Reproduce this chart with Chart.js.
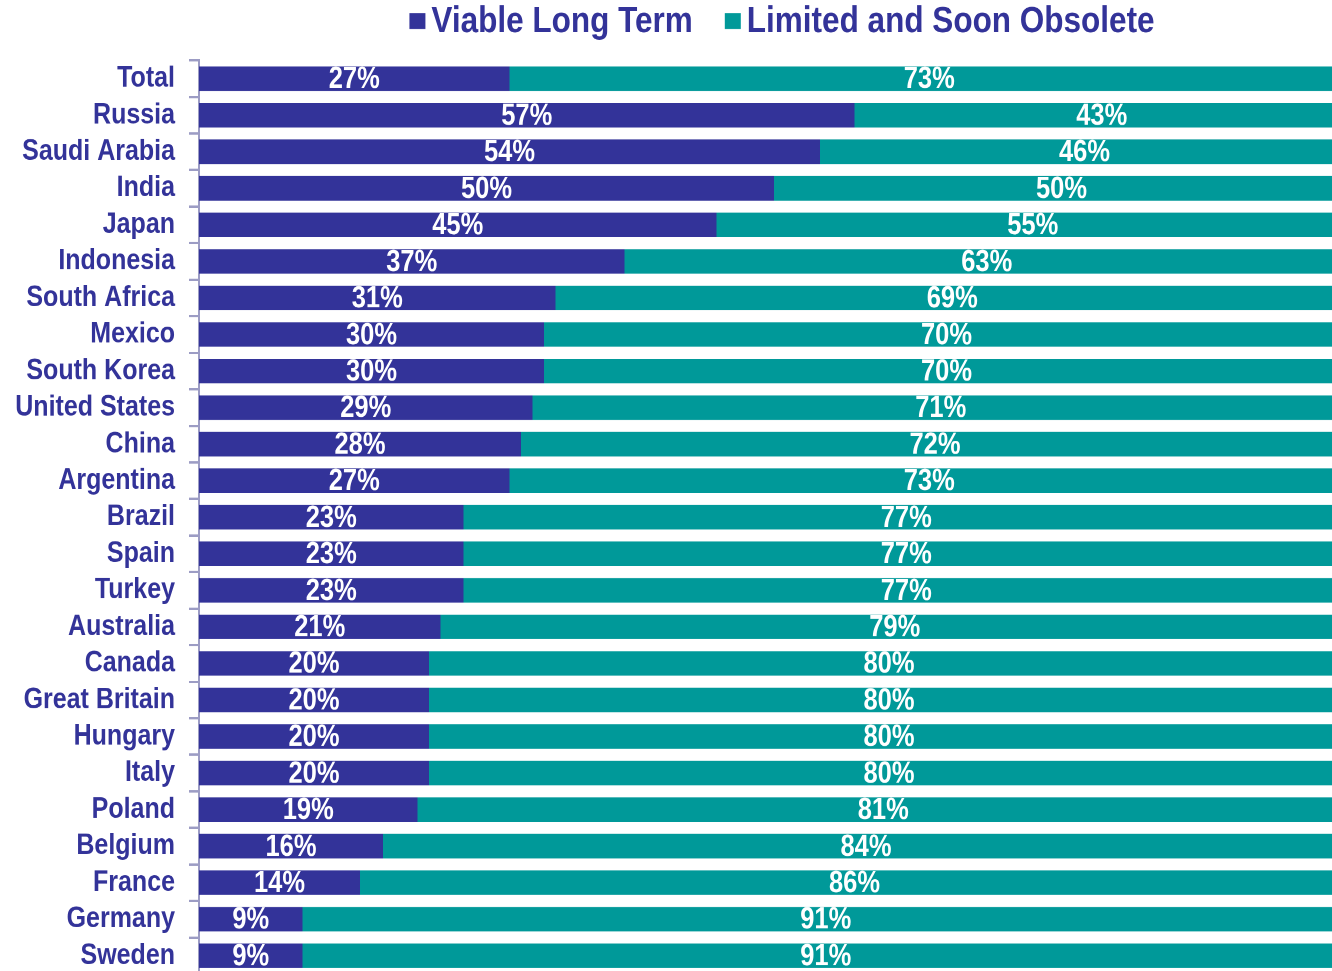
<!DOCTYPE html>
<html>
<head>
<meta charset="utf-8">
<script src="https://cdn.jsdelivr.net/npm/chart.js@4.4.1/dist/chart.umd.min.js"></script>
<style>
  html { margin: 0; padding: 0; background: #ffffff; overflow: hidden; }
  body { margin: 0; padding: 0; background: #ffffff; height: 971px; }
  #wrap { width: 1332px; height: 832px; position: relative; transform: scaleY(1.1707); transform-origin: 0 0; }
</style>
</head>
<body>
<div id="wrap"><canvas id="c"></canvas></div>
<script>
const categories = ["Total","Russia","Saudi Arabia","India","Japan","Indonesia","South Africa","Mexico","South Korea","United States","China","Argentina","Brazil","Spain","Turkey","Australia","Canada","Great Britain","Hungary","Italy","Poland","Belgium","France","Germany","Sweden"];
const viableLongTerm = [27,57,54,50,45,37,31,30,30,29,28,27,23,23,23,21,20,20,20,20,19,16,14,9,9];
const limitedSoonObsolete = [73,43,46,50,55,63,69,70,70,71,72,73,77,77,77,79,80,80,80,80,81,84,86,91,91];
const seriesNames = ["Viable Long Term", "Limited and Soon Obsolete"];
const seriesColors = ["#333399", "#009999"];

const FONT = "'Liberation Sans', Arial, Helvetica, sans-serif";

const labelPlugin = {
  id: 'segLabels',
  afterDatasetsDraw(chart) {
    const ctx = chart.ctx;
    const xs = chart.scales.x;
    ctx.save();
    ctx.fillStyle = '#ffffff';
    ctx.font = "bold 25.5px " + FONT;
    ctx.textAlign = 'center';
    ctx.textBaseline = 'middle';
    const n = chart.data.labels.length;
    for (let i = 0; i < n; i++) {
      let start = 0;
      chart.data.datasets.forEach((ds, di) => {
        const meta = chart.getDatasetMeta(di);
        const bar = meta.data[i];
        const v = ds.data[i];
        const cx = xs.getPixelForValue(start + v / 2);
        ctx.fillText(v + '%', cx, bar.y + 1);
        start += v;
      });
    }
    ctx.restore();
  }
};

const legendPlugin = {
  id: 'customLegend',
  afterDraw(chart) {
    const ctx = chart.ctx;
    ctx.save();
    ctx.font = "bold 31.5px " + FONT;
    ctx.textBaseline = 'middle';
    ctx.textAlign = 'left';
    const items = chart.data.datasets.map(d => ({ text: d.label, color: d.backgroundColor }));
    const boxW = 16, boxH = 13.7, gap = 6, between = 32;
    let total = 0;
    items.forEach((it, k) => {
      total += boxW + gap + ctx.measureText(it.text).width;
      if (k < items.length - 1) total += between;
    });
    let x = 782 - total / 2;
    const cy = 18;
    items.forEach(it => {
      ctx.fillStyle = it.color;
      ctx.fillRect(x, cy - boxH / 2, boxW, boxH);
      x += boxW + gap;
      ctx.fillStyle = '#333399';
      ctx.fillText(it.text, x, cy + 1);
      x += ctx.measureText(it.text).width + between;
    });
    ctx.restore();
  }
};

new Chart(document.getElementById('c'), {
  type: 'bar',
  data: {
    labels: categories,
    datasets: [
      { label: seriesNames[0], data: viableLongTerm, backgroundColor: seriesColors[0], borderWidth: 0 },
      { label: seriesNames[1], data: limitedSoonObsolete, backgroundColor: seriesColors[1], borderWidth: 0 }
    ]
  },
  options: {
    indexAxis: 'y',
    responsive: true,
    maintainAspectRatio: false,
    devicePixelRatio: 2,
    animation: false,
    layout: { padding: { top: 51.6, left: 0, right: 0, bottom: 0 } },
    datasets: { bar: { categoryPercentage: 1.0, barPercentage: 0.67 } },
    plugins: {
      legend: { display: false },
      tooltip: { enabled: false }
    },
    scales: {
      x: {
        stacked: true,
        min: 0,
        max: 100 * 1133 / 1150,
        display: false
      },
      y: {
        stacked: true,
        afterFit(scale) { scale.width = 199; scale.paddingTop = 0; scale.paddingBottom = 0; },
        border: { display: true, color: '#9c9cc4', width: 2 },
        grid: { offset: true, drawOnChartArea: false, drawTicks: true, tickLength: 10, color: '#9c9cc4', lineWidth: 2 },
        ticks: {
          color: '#333399',
          padding: 14,
          autoSkip: false,
          font: { family: FONT, size: 25, weight: 'bold' }
        }
      }
    }
  },
  plugins: [labelPlugin, legendPlugin]
});
</script>
</body>
</html>
